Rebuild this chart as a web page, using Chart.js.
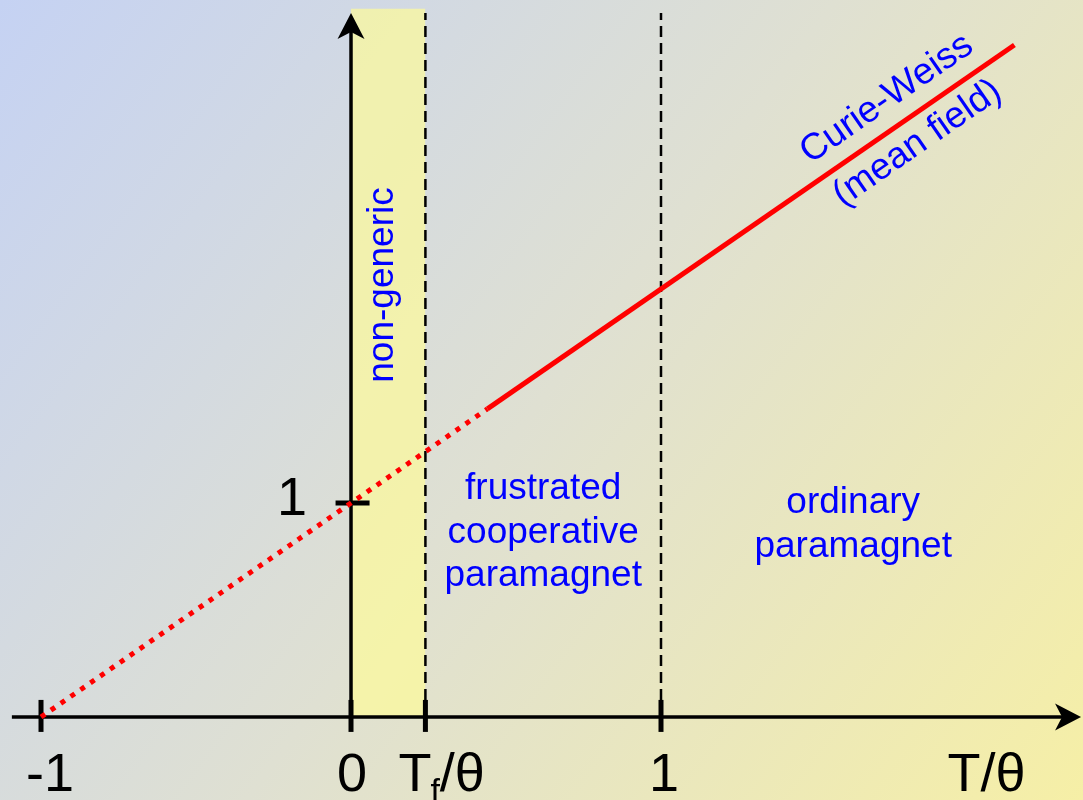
<!DOCTYPE html>
<html><head><meta charset="utf-8">
<script src="https://cdn.jsdelivr.net/npm/chart.js@4.4.1/dist/chart.umd.min.js"></script>
<style>html,body{margin:0;padding:0;background:#fff;overflow:hidden}canvas{display:block}</style>
</head><body>
<canvas id="c" width="1083" height="800"></canvas>
<script>
// ---- data ----
const Tf = 0.24;
const xTickValues = [-1, 0, Tf, 1];
const xTickLabels = ['-1', '0', 'Tf/θ', '1'];
const yTickValues = [1];
const yTickLabels = ['1'];
const dottedX = [-1, 0.44];
const dottedY = [0, 1.44];
const solidX = [0.44, 2.14];
const solidY = [1.44, 3.14];
const bandX = [0, Tf];
const dashedX = [Tf, 1];
const axisXRange = [-1.094, 2.355];
const axisYTop = 3.29;
const bandTop = 3.31;
const regionTexts = [
  {x: 0.62, lines: ['frustrated', 'cooperative', 'paramagnet']},
  {x: 1.62, lines: ['ordinary', 'paramagnet']}
];
const sideText = 'non-generic';
const lineText = ['Curie-Weiss', '(mean field)'];
const xAxisTitle = 'T/θ';

const F = "'Liberation Sans', Arial, sans-serif";
const BLUE = '#0000ff';
const BIG = 54, MID = 37;

const bgPlugin = {
  id: 'bg',
  beforeDraw(chart) {
    const ctx = chart.ctx, w = chart.width, h = chart.height;
    const g = ctx.createLinearGradient(0, 0, w, h);
    g.addColorStop(0, '#c5d2f3');
    g.addColorStop(0.5, '#dfe0d2');
    g.addColorStop(1, '#f6efa6');
    ctx.save(); ctx.fillStyle = g; ctx.fillRect(0, 0, w, h); ctx.restore();
  }
};

function arrow(ctx, tx, ty, dx, dy) {
  const L = 26, W = 13.5, N = 7;
  const px = -dy, py = dx;
  ctx.beginPath();
  ctx.moveTo(tx, ty);
  ctx.lineTo(tx - dx * L + px * W, ty - dy * L + py * W);
  ctx.lineTo(tx - dx * (L - N), ty - dy * (L - N));
  ctx.lineTo(tx - dx * L - px * W, ty - dy * L - py * W);
  ctx.closePath();
  ctx.fill();
}

const decoPlugin = {
  id: 'deco',
  afterDatasetsDraw(chart) {
    const ctx = chart.ctx, xs = chart.scales.x, ys = chart.scales.y;
    ctx.save();
    ctx.fillStyle = '#000';
    arrow(ctx, xs.getPixelForValue(axisXRange[1]), ys.getPixelForValue(0), 1, 0);
    arrow(ctx, xs.getPixelForValue(0), ys.getPixelForValue(axisYTop), 0, -1);
    ctx.restore();
  },
  afterDraw(chart) {
    const ctx = chart.ctx, xs = chart.scales.x, ys = chart.scales.y;
    ctx.save();
    const base = ys.getPixelForValue(0) + 74;
    ctx.fillStyle = '#000';
    ctx.textBaseline = 'alphabetic';
    xTickValues.forEach((v, i) => {
      const px = xs.getPixelForValue(v);
      const lab = xTickLabels[i];
      if (lab === 'Tf/θ') {
        ctx.textAlign = 'left';
        ctx.font = BIG + 'px ' + F;
        let x = px - 27;
        ctx.fillText('T', x, base); x += ctx.measureText('T').width - 1;
        ctx.font = '34px ' + F;
        ctx.fillText('f', x, base + 11); x += ctx.measureText('f').width;
        ctx.font = BIG + 'px ' + F;
        ctx.fillText('/θ', x, base);
      } else {
        ctx.textAlign = 'center';
        ctx.font = BIG + 'px ' + F;
        ctx.fillText(lab, px + (v < 0 ? 9 : (v > 0 ? 3 : 1)), base);
      }
    });
    ctx.textAlign = 'center'; ctx.font = BIG + 'px ' + F;
    ctx.fillText(xAxisTitle, xs.getPixelForValue(2.05), base);
    yTickValues.forEach((v, i) => {
      ctx.textAlign = 'right';
      ctx.fillText(yTickLabels[i], xs.getPixelForValue(0) - 44, ys.getPixelForValue(v) + 12);
    });
    ctx.fillStyle = BLUE; ctx.font = MID + 'px ' + F; ctx.textAlign = 'center';
    regionTexts.forEach((r, k) => {
      const px = xs.getPixelForValue(r.x);
      const b0 = k === 0 ? 499 : 513;
      r.lines.forEach((t, j) => ctx.fillText(t, px, b0 + j * 43.5));
    });
    ctx.save();
    ctx.translate(xs.getPixelForValue(Tf / 2) + 5, 285);
    ctx.rotate(-Math.PI / 2);
    ctx.textAlign = 'center';
    ctx.fillText(sideText, 0, 0);
    ctx.restore();
    const x1 = xs.getPixelForValue(solidX[0]), y1 = ys.getPixelForValue(solidY[0]);
    const x2 = xs.getPixelForValue(solidX[1]), y2 = ys.getPixelForValue(solidY[1]);
    const ang = Math.atan2(y2 - y1, x2 - x1);
    const ax = 1.78;
    const ay = solidY[0] + (ax - solidX[0]) * (solidY[1] - solidY[0]) / (solidX[1] - solidX[0]);
    ctx.save();
    ctx.translate(xs.getPixelForValue(ax), ys.getPixelForValue(ay));
    ctx.rotate(ang);
    ctx.textAlign = 'center';
    ctx.fillText(lineText[0], 0, -18);
    ctx.fillText(lineText[1], 0, 36);
    ctx.restore();
    ctx.restore();
  }
};

const pts = (xs, ys) => xs.map((x, i) => ({x, y: ys[i]}));
const base = {pointRadius: 0, showLine: true, fill: false, clip: false, tension: 0};

const datasets = [
  Object.assign({}, base, {
    data: bandX.map(x => ({x, y: bandTop})), fill: 'origin', borderWidth: 0,
    backgroundColor: 'rgba(252,250,155,0.72)', order: 10
  }),
  ...dashedX.map(x => Object.assign({}, base, {
    data: [{x, y: 0}, {x, y: axisYTop}], borderColor: '#000', borderWidth: 2.5,
    borderDash: [11, 6], order: 8
  })),
  Object.assign({}, base, {
    data: [{x: axisXRange[0], y: 0}, {x: axisXRange[1] - 0.05, y: 0}], borderColor: '#000', borderWidth: 3.5, order: 6
  }),
  Object.assign({}, base, {
    data: [{x: 0, y: 0}, {x: 0, y: axisYTop - 0.05}], borderColor: '#000', borderWidth: 3.5, order: 6
  }),
  {
    data: xTickValues.map(x => ({x, y: 0.005})), showLine: false, clip: false,
    pointStyle: 'line', pointRotation: 90, pointRadius: 16, pointBorderWidth: 5,
    pointBorderColor: '#000', pointBackgroundColor: '#000', order: 5
  },
  {
    data: yTickValues.map(y => ({x: 0.005, y})), showLine: false, clip: false,
    pointStyle: 'line', pointRotation: 0, pointRadius: 17, pointBorderWidth: 5,
    pointBorderColor: '#000', pointBackgroundColor: '#000', order: 4
  },
  Object.assign({}, base, {
    data: pts(dottedX, dottedY), borderColor: '#ff0000', borderWidth: 5,
    borderDash: [5, 7], borderCapStyle: 'butt', order: 1
  }),
  Object.assign({}, base, {
    data: pts(solidX, solidY), borderColor: '#ff0000', borderWidth: 5, order: 1
  })
];

new Chart(document.getElementById('c'), {
  type: 'scatter',
  data: {datasets},
  options: {
    responsive: false, animation: false, devicePixelRatio: 1,
    layout: {padding: 0, autoPadding: false},
    plugins: {legend: {display: false}, tooltip: {enabled: false}},
    events: [],
    scales: {
      x: {type: 'linear', min: -1.1323, max: 2.3613, display: false},
      y: {type: 'linear', min: -0.3879, max: 3.3505, display: false}
    }
  },
  plugins: [bgPlugin, decoPlugin]
});
</script>
</body></html>
